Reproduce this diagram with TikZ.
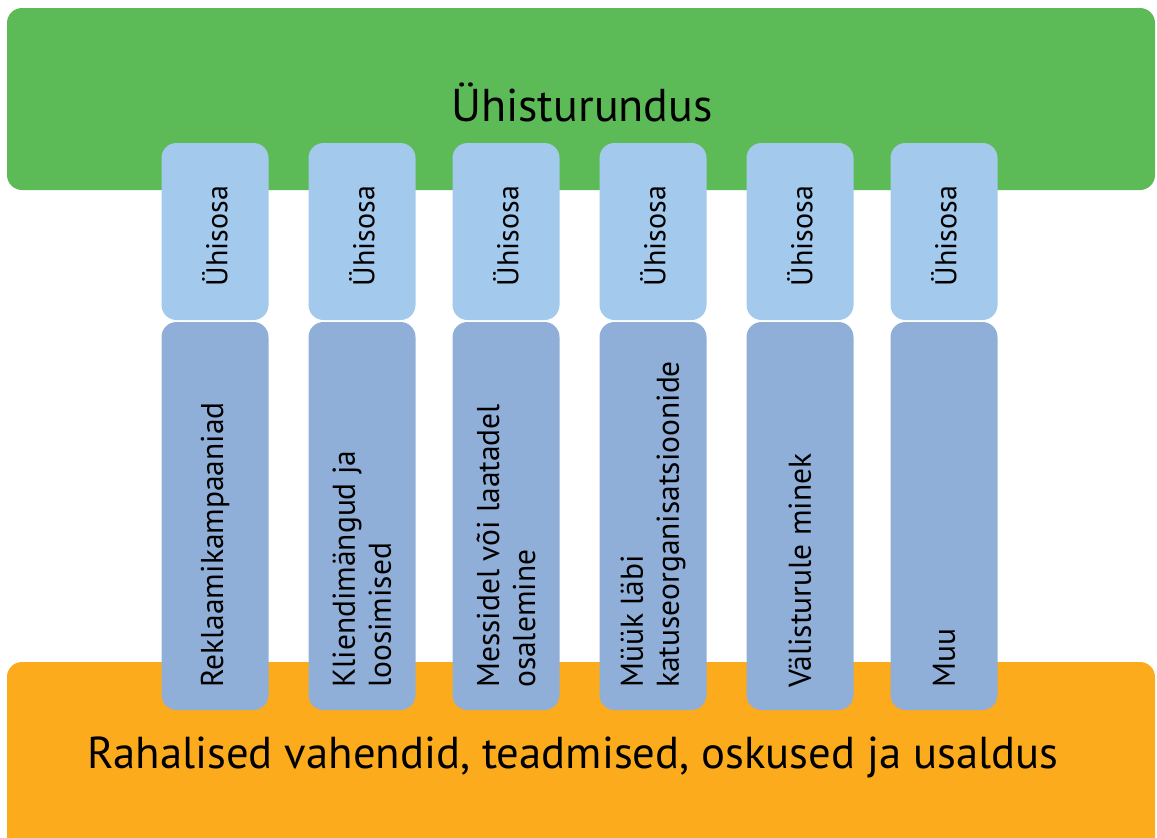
\documentclass[tikz,border=0pt]{standalone}
\usepackage{fontspec}
\setmainfont{PT Sans}
\definecolor{cgreen}{HTML}{5DBB57}
\definecolor{clight}{HTML}{A3CAEC}
\definecolor{cdark}{HTML}{8FAFD8}
\definecolor{corange}{HTML}{FBAB1B}
\tikzset{
  bar/.style={rounded corners=15pt},
  topbox/.style={fill=clight, rounded corners=15pt},
  botbox/.style={fill=cdark, rounded corners=15pt},
  vlabel/.style={rotate=90, font=\fontsize{30}{36}\selectfont, inner sep=0pt},
  blabel/.style={rotate=90, anchor=west, align=left, font=\fontsize{31.5}{36}\selectfont, inner sep=0pt},
}
\begin{document}
\begin{tikzpicture}[x=1pt,y=-1pt]
\useasboundingbox (0,0) rectangle (1157,838);
\clip (0,0) rectangle (1157,838);
\fill[cgreen, bar] (7,8) rectangle (1155,190);
\fill[corange, bar] (7,662) rectangle (1155,870);
\node[font=\fontsize{46}{54}\selectfont] (top) at (582,102) {Ühisturundus};
\node[font=\fontsize{44.7}{52}\selectfont] (bottom) at (573,757) {Rahalised vahendid, teadmised, oskused ja usaldus};
\foreach \i/\x/\t in {1/215/{Reklaamikampaaniad},2/362/{Kliendimängud ja\\loosimised},3/506/{Messidel või laatadel\\osalemine},4/653/{Müük läbi\\katuseorganisatsioonide},5/800/{Välisturule minek},6/944/{Muu}}{
  \path[topbox] (\x-53.5,143) rectangle (\x+53.5,320);
  \node[vlabel] (u\i) at (\x,236) {Ühisosa};
  \path[botbox] (\x-53.5,322) rectangle (\x+53.5,710);
  \node[blabel] (b\i) at (\x,688) {\t};
}
\end{tikzpicture}
\end{document}
